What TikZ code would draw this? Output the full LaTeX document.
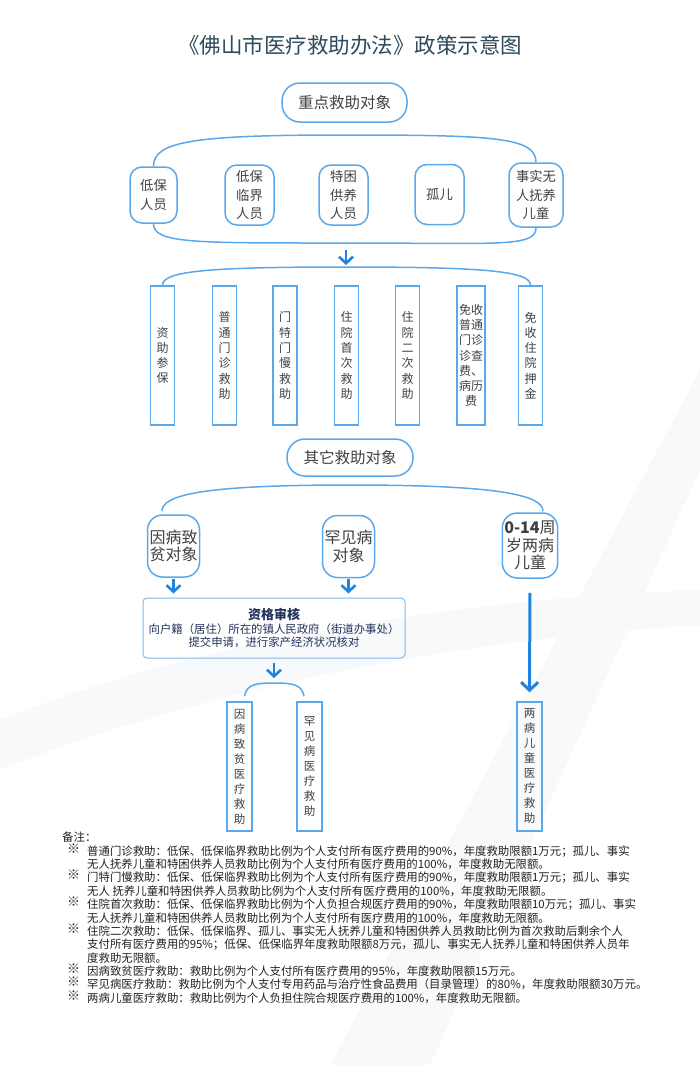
\documentclass[tikz,border=0pt]{standalone}
\usepackage{fontspec}
\setmainfont{Noto Sans CJK SC}
\usepackage{tikz}
\usetikzlibrary{positioning,arrows.meta,calc}

\definecolor{boxblue}{HTML}{5AA8EC}
\definecolor{arrblue}{HTML}{1F83E2}
\definecolor{titlecol}{HTML}{2E4A5A}
\definecolor{txtgray}{HTML}{404040}
\definecolor{navy}{HTML}{23325A}
\definecolor{notecol}{HTML}{222222}
\definecolor{bgband}{HTML}{F7F9FB}

\tikzset{
    hdr/.style={draw=boxblue, line width=1.5pt, rounded corners=18pt, font=\fontsize{15.5}{18}\selectfont, text=txtgray},
    objbox/.style={draw=boxblue, line width=1.5pt, rounded corners=12pt, minimum width=49pt, minimum height=60pt, inner sep=2pt, align=center, font=\fontsize{13.3}{18.3}\selectfont, text=txtgray},
    objbig/.style={objbox, rounded corners=15pt, minimum width=51pt, minimum height=62pt, font=\fontsize{16}{17.4}\selectfont},
    colbox/.style={draw=boxblue, line width=1.5pt, minimum width=24pt, minimum height=139pt, inner sep=1pt, align=center, font=\fontsize{12}{15.3}\selectfont, text=txtgray},
    colsmall/.style={colbox, minimum width=25pt, minimum height=129pt, font=\fontsize{11.5}{15}\selectfont},
    qualbox/.style={draw=boxblue!80, line width=1pt, rounded corners=4pt, minimum width=262pt, minimum height=60pt, align=center, text=navy, font=\fontsize{11.4}{13}\selectfont},
    brace/.style={draw=boxblue, line width=1.5pt},
    arrshort/.style={draw=arrblue, line width=2.6pt, -{Straight Barb[length=6.5pt,width=14pt]}},
    arrlong/.style={draw=arrblue, line width=3pt, -{Straight Barb[length=8pt,width=17pt]}},
    note/.style={font=\fontsize{11.4}{13}\selectfont, text=notecol, inner sep=0pt, text height=9pt, text depth=2.5pt}
}

\begin{document}
\begin{tikzpicture}[x=1pt, y=-1pt]

    \useasboundingbox (0,0) rectangle (700,1065);

    % faint background bands
    \fill[bgband] (700,370) -- (700,470) -- (430,1065) -- (330,1065) -- cycle;
    \fill[bgband] (0,720) .. controls (200,640) and (450,600) .. (700,590) -- (700,625) .. controls (450,640) and (200,690) .. (0,770) -- cycle;

    \node[font=\fontsize{21.5}{26}\selectfont, text=titlecol] (title) at (350,45) {《佛山市医疗救助办法》政策示意图};

    % key objects
    \node[hdr, minimum width=125, minimum height=39] (key) at (344.5,102.5) {重点救助对象};

    \node[objbox, minimum width=47, minimum height=56] (b1) at (153.5,195) {低保\\人员};
    \node[objbox] (b2) at (249.5,195) {低保\\临界\\人员};
    \node[objbox] (b3) at (343.5,195) {特困\\供养\\人员};
    \node[objbox] (b4) at (439.5,194.5) {孤儿};
    \node[objbox, minimum width=54, minimum height=64] (b5) at (536,195) {事实无\\人抚养\\儿童};

    \coordinate (g1top) at (344,135);
    \coordinate (g1bot) at (346,243);
    \draw[brace] (b1.north) .. controls +(0,-25) and +(-150,0) .. (g1top) .. controls +(150,0) and +(0,-25) .. (b5.north);
    \draw[brace] (b1.south) .. controls +(0,20) and +(-150,0) .. (g1bot) .. controls +(150,0) and +(0,20) .. (b5.south);

    % kinds of aid
    \foreach \n/\x/\t in {c1/162.5/{资\\助\\参\\保}, c2/224.5/{普\\通\\门\\诊\\救\\助}, c3/285/{门\\特\\门\\慢\\救\\助}, c4/346.5/{住\\院\\首\\次\\救\\助}, c5/407.5/{住\\院\\二\\次\\救\\助}, c7/530.5/{免\\收\\住\\院\\押\\金}}
        \node[colbox] (\n) at (\x,355.5) {\t};
    \node[colbox, minimum width=28] (c6) at (471,355.5) {免收\\普通\\门诊\\诊查\\费、\\病历\\费};

    \coordinate (g2top) at (346,267);
    \draw[arrshort, shorten <=7pt, shorten >=2pt] (g1bot) -- (g2top);
    \draw[brace] (c1.north) .. controls +(0,-14) and +(-140,0) .. (g2top) .. controls +(140,0) and +(0,-14) .. (c7.north);

    % other objects
    \node[hdr, minimum width=126, minimum height=37] (other) at (350,457.5) {其它救助对象};

    \node[objbig] (d1) at (173.5,546) {因病致\\贫对象};
    \node[objbig] (d2) at (348.5,546.5) {罕见病\\对象};
    \node[objbig, minimum width=54, minimum height=65] (d3) at (530,545.5) {{\bfseries 0-14}周\\岁两病\\儿童};

    \coordinate (g3top) at (350,485);
    \draw[brace] ($(d1.north)+(-11.5,-3)$) .. controls +(0,-16) and +(-150,0) .. (g3top) .. controls +(150,0) and +(0,-16) .. ($(d3.north)+(13,-1)$);

    \node[qualbox] (qual) at (274,628) {{\bfseries\fontsize{13}{16}\selectfont 资格审核}\\[1pt]
        向户籍（居住）所在的镇人民政府（街道办事处）\\
        提交申请，进行家产经济状况核对};

    \draw[arrshort, shorten <=1pt, shorten >=4pt] (d1.south) -- (d1.south |- qual.north);
    \draw[arrshort, shorten <=1pt, shorten >=4pt] (d2.south) -- (d2.south |- qual.north);

    \node[colsmall] (e1) at (239.5,766.5) {因\\病\\致\\贫\\医\\疗\\救\\助};
    \node[colsmall] (e2) at (309.5,766.5) {罕\\见\\病\\医\\疗\\救\\助};
    \node[colsmall] (f3) at (529.5,766.5) {两\\病\\儿\\童\\医\\疗\\救\\助};

    \coordinate (g4top) at (274,683);
    \draw[arrshort, shorten <=4pt, shorten >=5pt] (qual.south) -- (g4top);
    \draw[brace] ($(e1.north)+(5,-5)$) .. controls +(2,-12) and +(-18,0) .. (g4top) .. controls +(18,0) and +(-2,-12) .. ($(e2.north)+(-5.5,-5)$);

    \draw[arrlong, shorten <=14pt, shorten >=9pt] (d3.south) -- (f3.north);

    % notes
    \node[note, anchor=west] (remark) at (62,838) {备注：};
    \foreach \k in {0,2,4,6,9,10,11}
        \node[note, font=\fontsize{13}{13}\bfseries] (mk\k) at (73.5,850+13.36*\k) {※};
    \foreach \k/\t in {
        0/{普通门诊救助：低保、低保临界救助比例为个人支付所有医疗费用的90\%，年度救助限额1万元；孤儿、事实},
        1/{无人抚养儿童和特困供养人员救助比例为个人支付所有医疗费用的100\%，年度救助无限额。},
        2/{门特门慢救助：低保、低保临界救助比例为个人支付所有医疗费用的90\%，年度救助限额1万元；孤儿、事实},
        3/{无人\ 抚养儿童和特困供养人员救助比例为个人支付所有医疗费用的100\%，年度救助无限额。},
        4/{住院首次救助：低保、低保临界救助比例为个人负担合规医疗费用的90\%，年度救助限额10万元；孤儿、事实},
        5/{无人抚养儿童和特困供养人员救助比例为个人支付所有医疗费用的100\%，年度救助无限额。},
        6/{住院二次救助：低保、低保临界、孤儿、事实无人抚养儿童和特困供养人员救助比例为首次救助后剩余个人},
        7/{支付所有医疗费用的95\%；低保、低保临界年度救助限额8万元，孤儿、事实无人抚养儿童和特困供养人员年},
        8/{度救助无限额。},
        9/{因病致贫医疗救助：救助比例为个人支付所有医疗费用的95\%，年度救助限额15万元。},
        10/{罕见病医疗救助：救助比例为个人支付专用药品与治疗性食品费用（目录管理）的80\%，年度救助限额30万元。},
        11/{两病儿童医疗救助：救助比例为个人负担住院合规医疗费用的100\%，年度救助无限额。}}
        \node[note, anchor=west] (nl\k) at (87,852+13.36*\k) {\t};

\end{tikzpicture}
\end{document}
